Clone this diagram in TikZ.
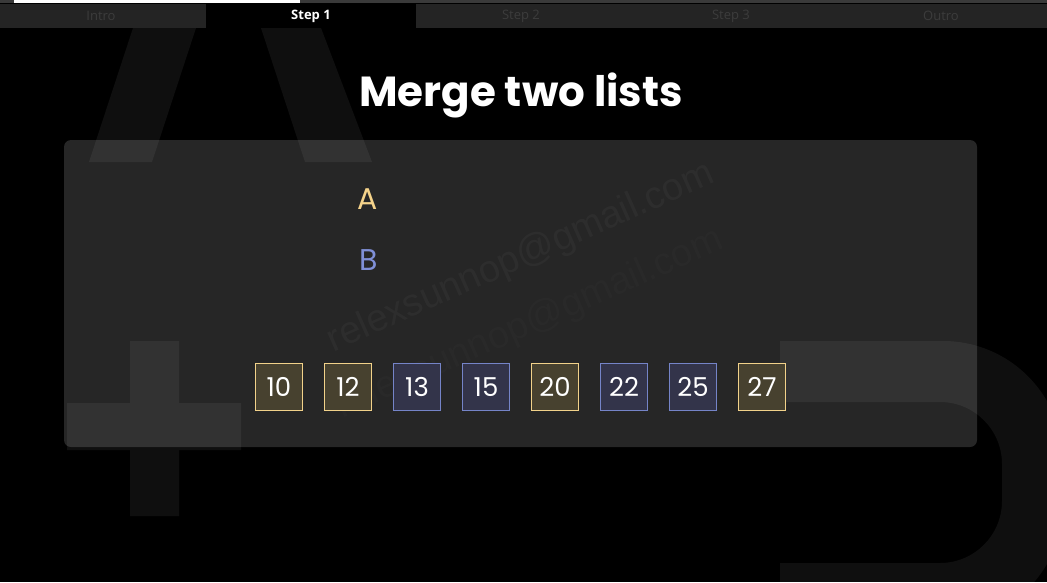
\documentclass[tikz,border=0pt]{standalone}
\usepackage{fontspec}
\setmainfont{Poppins}
\newfontfamily\tabfont{Open Sans}
\newfontfamily\wmfont{Liberation Sans}
\definecolor{panel}{HTML}{262626}
\definecolor{tabbar}{HTML}{242424}
\definecolor{tabtxt}{HTML}{3C3C3C}
\definecolor{track}{HTML}{3A3A3A}
\definecolor{yline}{HTML}{F2D28A}
\definecolor{yfill}{HTML}{47412F}
\definecolor{bline}{HTML}{7584C8}
\definecolor{bfill}{HTML}{33344A}
\definecolor{alab}{HTML}{F5D38A}
\definecolor{blab}{HTML}{8090D8}
\tikzset{
  decor/.style={fill=white, fill opacity=0.06},
  tab/.style={text=tabtxt, font=\tabfont\fontsize{13}{13}\selectfont, inner sep=0pt},
  acttab/.style={text=white, font=\tabfont\bfseries\fontsize{13}{13}\selectfont, inner sep=0pt},
  wm/.style={text=white, text opacity=0.035, font=\wmfont\fontsize{38}{38}\selectfont, inner sep=0pt},
  numbox/.style={minimum size=47pt, inner sep=0pt, line width=1.2pt, text=white, font=\fontsize{26}{26}\selectfont},
  ybox/.style={numbox, draw=yline, fill=yfill},
  bbox/.style={numbox, draw=bline, fill=bfill},
}
\begin{document}
\begin{tikzpicture}[x=1pt,y=-1pt]
\clip (0,0) rectangle (1047,582);
\fill[black] (0,0) rectangle (1047,582);
% progress track and tab bar
\fill[track] (0,0) rectangle (1047,2.5);
\fill[white] (14,0) rectangle (300,2.5);
\fill[tabbar] (0,4) rectangle (1047,28);
\fill[black] (206,4) rectangle (416,28);
\node[tab] (intro) at (101,16) {Intro};
\node[acttab] (step1) at (311,16) {Step 1};
\node[tab] (step2) at (521,16) {Step 2};
\node[tab] (step3) at (731,16) {Step 3};
\node[tab] (outro) at (941,16) {Outro};
% title
\node[text=white, font=\bfseries\fontsize{42}{48}\selectfont, inner sep=0pt] (title) at (521,95) {Merge two lists};
% panel
\fill[panel, rounded corners=7pt] (64,140) rectangle (977,447);
% decorative background letters
\fill[decor] (89,162) -- (152,162) -- (196,28) -- (133,28) -- cycle;
\fill[decor] (305,162) -- (372,162) -- (321,28) -- (261,28) -- cycle;
\fill[decor] (130,341) rectangle (179,516) (67,403) rectangle (241,450);
\fill[decor] (780,341) [rounded corners=120pt] -- (1063,341) -- (1063,624) [sharp corners] -- (780,624) -- (780,563) [rounded corners=62pt] -- (1002,563) -- (1002,402) [sharp corners] -- (780,402) -- cycle;
% watermark
\node[wm, rotate=24] (wm1) at (521,258) {relexsunnop@gmail.com};
\node[wm, rotate=24, text opacity=0.015] (wm2) at (530,324) {relexsunnop@gmail.com};
% labels
\node[text=alab, font=\fontsize{30}{30}\selectfont, inner sep=0pt] (A) at (368,199) {A};
\node[text=blab, font=\fontsize{30}{30}\selectfont, inner sep=0pt] (B) at (369,260) {B};
% boxes
\node[ybox] (n10) at (279,387) {10};
\node[ybox] (n12) at (348,387) {12};
\node[bbox] (n13) at (417,387) {13};
\node[bbox] (n15) at (486,387) {15};
\node[ybox] (n20) at (555,387) {20};
\node[bbox] (n22) at (624,387) {22};
\node[bbox] (n25) at (693,387) {25};
\node[ybox] (n27) at (762,387) {27};
\end{tikzpicture}
\end{document}
